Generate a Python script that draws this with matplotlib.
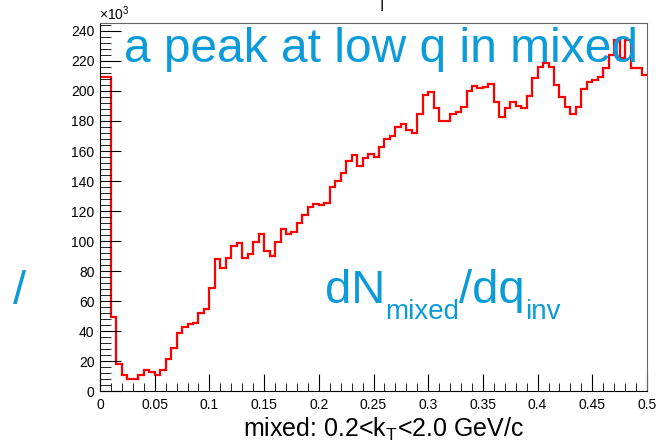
import numpy as np
import matplotlib
matplotlib.use("Agg")
from matplotlib import pyplot as plt
from matplotlib.ticker import MultipleLocator, FuncFormatter
from matplotlib.transforms import offset_copy

plt.rcParams['font.family'] = ['Liberation Sans', 'DejaVu Sans']
plt.rcParams['mathtext.fontset'] = 'custom'
plt.rcParams['mathtext.rm'] = 'Liberation Sans'
plt.rcParams['mathtext.it'] = 'Liberation Sans'

# mixed-event q_inv distribution, 100 bins from 0 to 0.5 GeV/c
q_edges = np.linspace(0.0, 0.5, 101)
counts = [
    209e3, 209e3, 49.5e3, 17.8e3, 11.0e3, 8.2e3, 8.2e3, 11.0e3, 14.0e3, 12.5e3,
    10.4e3, 14.0e3, 21.3e3, 28.4e3, 38.4e3, 42.4e3, 44.7e3, 45.6e3, 51.8e3, 54.4e3,
    68.9e3, 87.8e3, 81.8e3, 88.9e3, 96.7e3, 98.9e3, 88.9e3, 91.1e3, 99.1e3, 104.4e3,
    93.6e3, 90.2e3, 99.6e3, 108.0e3, 104.7e3, 106.0e3, 112.2e3, 117.3e3, 122.7e3, 124.4e3,
    123.8e3, 125.1e3, 135.8e3, 139.8e3, 145.6e3, 153.6e3, 157.3e3, 150.2e3, 155.6e3, 158.0e3,
    156.0e3, 162.7e3, 168.0e3, 170.0e3, 175.8e3, 178.0e3, 173.8e3, 172.0e3, 184.4e3, 197.6e3,
    199.1e3, 188.7e3, 179.8e3, 179.8e3, 184.4e3, 186.2e3, 189.6e3, 200.0e3, 203.3e3, 202.2e3,
    202.9e3, 204.7e3, 192.9e3, 182.9e3, 188.4e3, 192.4e3, 190.2e3, 188.9e3, 196.9e3, 208.9e3,
    215.8e3, 218.9e3, 215.8e3, 203.8e3, 195.8e3, 189.1e3, 184.7e3, 189.1e3, 201.3e3, 206.2e3,
    207.3e3, 209.1e3, 215.1e3, 224.0e3, 234.0e3, 222.0e3, 234.0e3, 215.0e3, 215.0e3, 210.7e3,
]

blue = '#0a9bd8'

fig = plt.figure(figsize=(6.58, 4.45), dpi=100)
ax = fig.add_axes([0.152, 0.1213, 0.8313, 0.8276])

ax.stairs(counts, q_edges, baseline=None, color='red', linewidth=1.6)

ax.set_xlim(0, 0.5)
ax.set_ylim(0, 245.5e3)

ax.xaxis.set_major_locator(MultipleLocator(0.05))
ax.xaxis.set_minor_locator(MultipleLocator(0.01))
ax.yaxis.set_major_locator(MultipleLocator(20e3))
ax.yaxis.set_minor_locator(MultipleLocator(4e3))
ax.xaxis.set_major_formatter(FuncFormatter(lambda v, p: '0' if abs(v) < 1e-9 else ('%g' % round(v, 3))))
ax.yaxis.set_major_formatter(FuncFormatter(lambda v, p: '%d' % round(v / 1e3)))

ax.tick_params(axis='both', which='both', direction='in', top=False, right=False,
               labelsize=10, color='black')
ax.tick_params(axis='x', which='major', length=12, pad=5)
ax.tick_params(axis='x', which='minor', length=6)
ax.tick_params(axis='y', which='major', length=15, pad=4)
ax.tick_params(axis='y', which='minor', length=8)
for side in ['top', 'right']:
    ax.spines[side].set_color('#666666')

ax.text(-0.002, 1.0, r'$\times$10$^{3}$', transform=ax.transAxes, fontsize=10,
        ha='left', va='bottom')

# axis title
fig.text(0.5836, 0.018, r'mixed: 0.2<k$_{\mathrm{T}}$<2.0 GeV/c', fontsize=18,
         ha='center', va='baseline')

fig.text(0.5795, 0.861, 'a peak at low q in mixed', color=blue, fontsize=34.5,
         ha='center', va='baseline')
fig.text(0.0295, 0.317, '/', color=blue, fontsize=34, ha='center', va='baseline')
fig.text(0.58, 0.993, '|', fontsize=12, ha='center', va='center')

# dN_mixed/dq_inv built piece by piece so the subscripts can be sized freely
renderer = fig.canvas.get_renderer()
pieces = [('dN', 34, 0), ('mixed', 20, -16), ('/dq', 34, 0), ('inv', 20, -16)]
x0 = 325
y0 = 445 - 303
for s, size, dy in pieces:
    t = fig.text(x0 / 658, (y0 + dy) / 445, s, color=blue, fontsize=size,
                 ha='left', va='baseline')
    bb = t.get_window_extent(renderer)
    x0 = bb.x1

fig.savefig('out.png', dpi=100)
